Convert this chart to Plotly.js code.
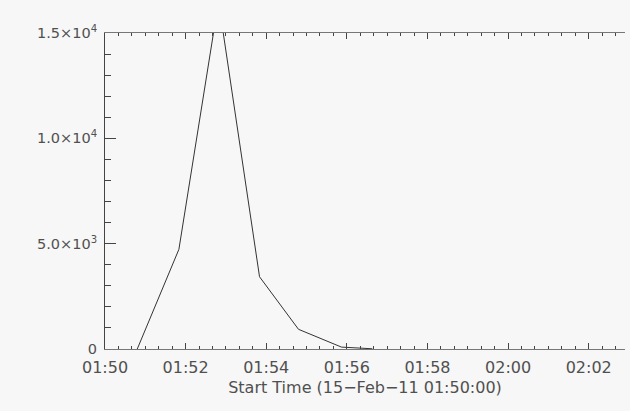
<!DOCTYPE html>
<html>
<head>
<meta charset="utf-8">
<script src="https://cdn.plot.ly/plotly-3.0.1.min.js"></script>
<style>
html,body{margin:0;padding:0;background:#f7f7f7;}
#chart{width:630px;height:411px;}
</style>
</head>
<body>
<div id="chart"></div>
<script>
// Data
var times = [
  "2011-02-15 01:50:48",
  "2011-02-15 01:51:50",
  "2011-02-15 01:52:49",
  "2011-02-15 01:53:50",
  "2011-02-15 01:54:48",
  "2011-02-15 01:55:52",
  "2011-02-15 01:56:38"
];
var counts = [0, 4730, 16500, 3430, 935, 90, 10];

var yTickVals = [0, 5000, 10000, 15000];
var yTickText = ["0", "5.0×10<sup>3</sup>", "1.0×10<sup>4</sup>", "1.5×10<sup>4</sup>"];
var xRange = ["2011-02-15 01:50:00", "2011-02-15 02:02:54"];
var xTitle = "Start Time (15\u2212Feb\u221211 01:50:00)";

var fontFam = "DejaVu Sans, sans-serif";
var txtColor = "#505050";
var trace = {
  x: times,
  y: counts,
  type: "scatter",
  mode: "lines",
  line: {color: "#333333", width: 1},
  hoverinfo: "skip"
};

var layout = {
  width: 630,
  height: 411,
  margin: {l: 105, r: 5, t: 33, b: 62},
  paper_bgcolor: "#f7f7f7",
  plot_bgcolor: "#f7f7f7",
  showlegend: false,
  font: {family: fontFam, size: 15, color: txtColor},
  xaxis: {
    type: "date",
    range: xRange,
    tickformat: "%H:%M",
    tick0: "2011-02-15 01:50:00",
    dtick: 120000,
    ticks: "inside",
    ticklen: 6,
    tickwidth: 1,
    tickcolor: "#444444",
    showline: true,
    linecolor: "#777777",
    linewidth: 1,
    mirror: "allticks",
    showgrid: false,
    zeroline: false,
    ticklabelstandoff: 4,
    minor: {dtick: 20000, ticks: "inside", ticklen: 3, tickcolor: "#444444", showgrid: false},
    tickfont: {family: fontFam, size: 16, color: txtColor},
    title: {text: xTitle, font: {family: fontFam, size: 16, color: txtColor}, standoff: 5}
  },
  yaxis: {
    range: [0, 15000],
    tickvals: yTickVals,
    ticktext: yTickText,
    ticks: "inside",
    ticklen: 11,
    tickwidth: 1,
    tickcolor: "#444444",
    showline: true,
    linecolor: "#444444",
    linewidth: 1,
    mirror: false,
    showgrid: false,
    zeroline: false,
    ticklabelstandoff: 4,
    minor: {dtick: 1000, tick0: 0, ticks: "inside", ticklen: 6, tickcolor: "#444444", showgrid: false},
    tickfont: {family: fontFam, size: 14.5, color: txtColor}
  }
};

Plotly.newPlot("chart", [trace], layout, {displayModeBar: false, staticPlot: true});
</script>
</body>
</html>
